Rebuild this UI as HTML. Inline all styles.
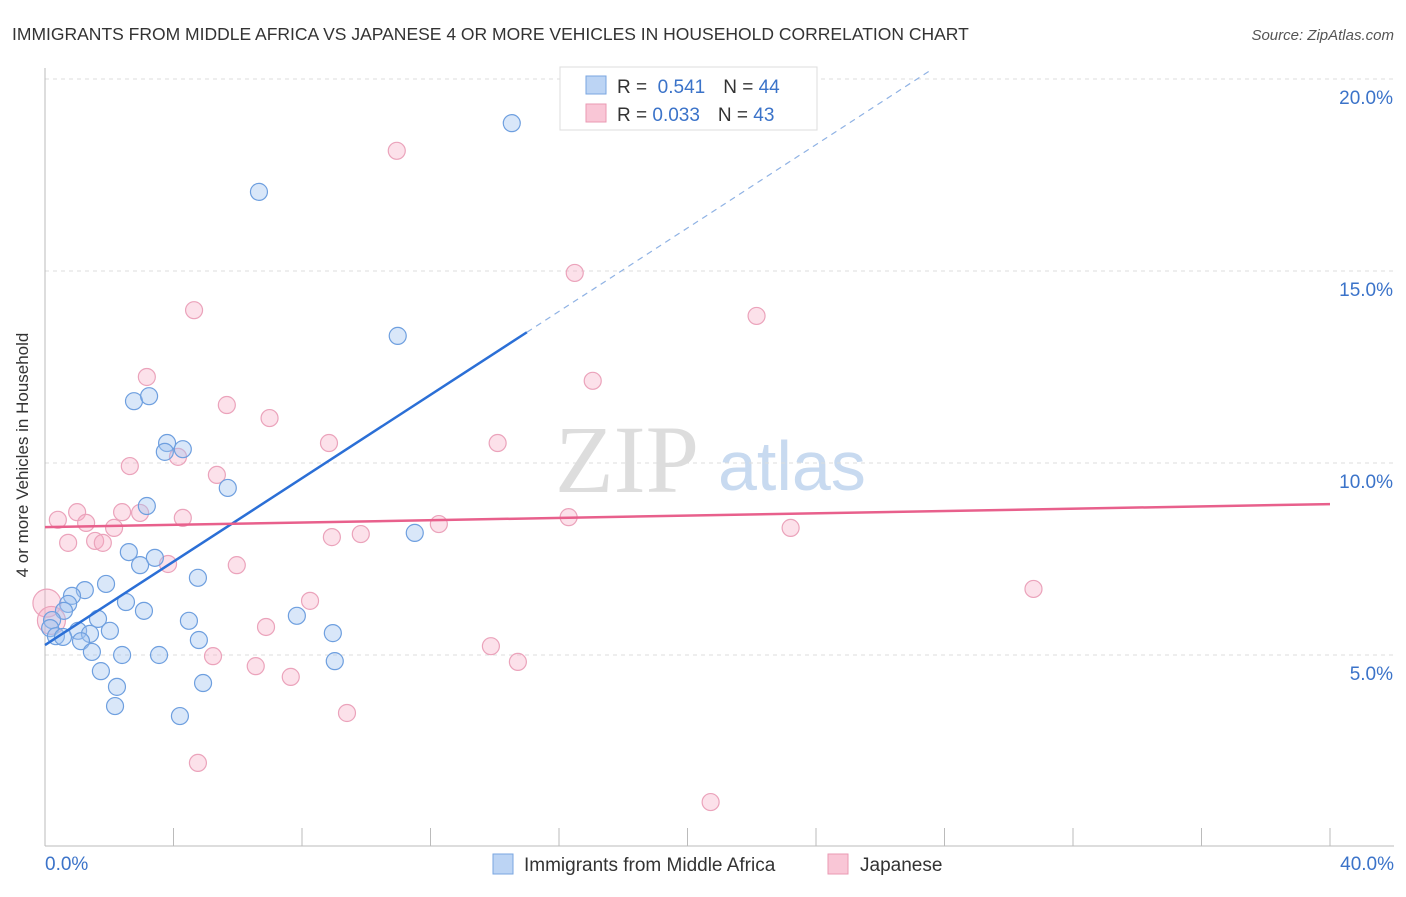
<!DOCTYPE html>
<html><head><meta charset="utf-8"><style>
body{margin:0;background:#fff;font-family:"Liberation Sans",sans-serif;}
</style></head><body>
<svg width="1406" height="892" xmlns="http://www.w3.org/2000/svg" id="svg">
<text x="12" y="40" font-size="17.5" fill="#333">IMMIGRANTS FROM MIDDLE AFRICA VS JAPANESE 4 OR MORE VEHICLES IN HOUSEHOLD CORRELATION CHART</text>
<text x="1394" y="40" font-size="15" fill="#555" font-style="italic" text-anchor="end">Source: ZipAtlas.com</text>
<text x="28" y="455" font-size="17" fill="#333" text-anchor="middle" transform="rotate(-90 28 455)">4 or more Vehicles in Household</text>
<text x="555" y="492" font-size="96" fill="#ddd" font-family="Liberation Serif,serif">ZIP</text>
<text x="718" y="490" font-size="70" fill="#c8daf0">atlas</text>
<g id="grid"></g><g id="pts"></g><g id="lines"></g>
<g>
<rect x="560" y="67" width="257" height="63" fill="#fff" stroke="#ddd"/>
<rect x="586" y="76" width="20" height="18" fill="#bcd4f4" stroke="#7aa6e0"/>
<rect x="586" y="104" width="20" height="18" fill="#f9c6d6" stroke="#ea99b3"/>
<text x="617" y="93" font-size="19" fill="#333">R = <tspan fill="#3b73c9">&#160;0.541</tspan><tspan dx="18">N = </tspan><tspan fill="#3b73c9">44</tspan></text>
<text x="617" y="121" font-size="19" fill="#333">R = <tspan fill="#3b73c9">0.033</tspan><tspan dx="18">N = </tspan><tspan fill="#3b73c9">43</tspan></text>
</g>
<g>
<rect x="493" y="854" width="20" height="20" fill="#bcd4f4" stroke="#7aa6e0"/>
<text x="524" y="871" font-size="19" fill="#333">Immigrants from Middle Africa</text>
<rect x="828" y="854" width="20" height="20" fill="#f9c6d6" stroke="#ea99b3"/>
<text x="860" y="871" font-size="19" fill="#333">Japanese</text>
</g>
</svg>
<script>
const yTicks=[5,10,15,20];
const xTickLabels=["0.0%","40.0%"];
const blueX=[14.53,6.66,10.98,2.77,3.24,3.80,3.73,4.29,5.69,3.17,11.51,2.61,3.42,2.96,4.76,1.90,1.24,0.84,0.72,0.59,2.52,3.08,7.84,4.48,1.65,0.22,0.16,1.03,2.02,1.40,8.96,0.34,0.56,1.12,4.79,1.46,2.40,3.55,9.02,1.74,2.24,4.92,2.18,4.20];
const blueY=[18.85,17.06,13.31,11.61,11.74,10.52,10.29,10.36,9.35,8.88,8.18,7.68,7.53,7.34,7.01,6.85,6.69,6.54,6.33,6.15,6.38,6.15,6.02,5.89,5.94,5.91,5.70,5.63,5.63,5.55,5.57,5.49,5.47,5.36,5.39,5.08,5.00,5.00,4.84,4.58,4.17,4.27,3.67,3.41];
const pinkX=[10.95,16.49,4.64,22.15,3.17,17.05,5.66,6.99,8.84,14.09,4.14,2.64,5.35,1.00,0.40,2.96,2.40,4.29,1.28,2.15,16.30,12.26,23.21,8.93,9.83,0.72,1.56,1.80,3.83,5.97,30.77,8.25,0.06,6.88,13.88,5.23,14.72,6.56,7.65,9.40,4.76,20.72,0.2];
const pinkY=[18.13,14.95,13.98,13.83,12.24,12.14,11.51,11.17,10.52,10.52,10.16,9.92,9.69,8.72,8.52,8.70,8.72,8.57,8.44,8.31,8.59,8.41,8.31,8.07,8.15,7.92,7.97,7.92,7.37,7.34,6.72,6.41,6.35,5.73,5.23,4.97,4.82,4.71,4.43,3.49,2.19,1.17,5.9];
const blueTrend=[5.26,0.543];
const pinkTrend=[8.33,0.015];
const X=v=>45+v*32.125, Y=v=>847-v*38.4;
const NS="http://www.w3.org/2000/svg";
function mk(t,a,p){const e=document.createElementNS(NS,t);for(const k in a)e.setAttribute(k,a[k]);p.appendChild(e);return e;}
const g=document.getElementById('grid');
yTicks.forEach(t=>{const l=mk('line',{x1:45,x2:1394,y1:Y(t),y2:Y(t),stroke:'#ddd','stroke-dasharray':'4,4'},g);


const tx=mk('text',{x:1393,y:Y(t)+25,'font-size':19,fill:'#3b73c9','text-anchor':'end'},g);tx.textContent=t.toFixed(1)+'%';

});
mk('line',{x1:45,x2:45,y1:68,y2:846,stroke:'#bbb'},g);
mk('line',{x1:45,x2:1394,y1:846,y2:846,stroke:'#bbb'},g);
for(let i=0;i<=10;i++){const t=mk('line',{x1:X(i*4),x2:X(i*4),y1:828,y2:846,stroke:'#bbb'},g);

}
[[0,'start',45],[40,'end',1394]].forEach((d,i)=>{const tx=mk('text',{x:d[2],y:870,'font-size':19,fill:'#3b73c9','text-anchor':d[1]},g);tx.textContent=xTickLabels[i];

});
const p=document.getElementById('pts');
pinkX.forEach((x,i)=>{const c=mk('circle',{cx:X(x),cy:Y(pinkY[i]),r:(i==pinkX.length-1||i==32)?14:8.5,fill:'rgba(246,170,195,0.35)',stroke:'#eba3bb','stroke-width':1.2},p);

});
blueX.forEach((x,i)=>{const c=mk('circle',{cx:X(x),cy:Y(blueY[i]),r:8.5,fill:'rgba(160,195,240,0.4)',stroke:'#6e9fdf','stroke-width':1.2},p);

});
const L=document.getElementById('lines');
const b1=mk('line',{x1:X(0),y1:Y(blueTrend[0]),x2:X(15),y2:Y(blueTrend[0]+15*blueTrend[1]),stroke:'#2b6fd6','stroke-width':2.5},L);


const xe=(20.2-blueTrend[0])/blueTrend[1];
const b2=mk('line',{x1:X(15),y1:Y(blueTrend[0]+15*blueTrend[1]),x2:X(xe),y2:Y(20.2),stroke:'#8fb2e4','stroke-width':1.2,'stroke-dasharray':'6,5'},L);


const pl=mk('line',{x1:X(0),y1:Y(pinkTrend[0]),x2:X(40),y2:Y(pinkTrend[0]+40*pinkTrend[1]),stroke:'#e8608c','stroke-width':2.5},L);


</script>
</body></html>
